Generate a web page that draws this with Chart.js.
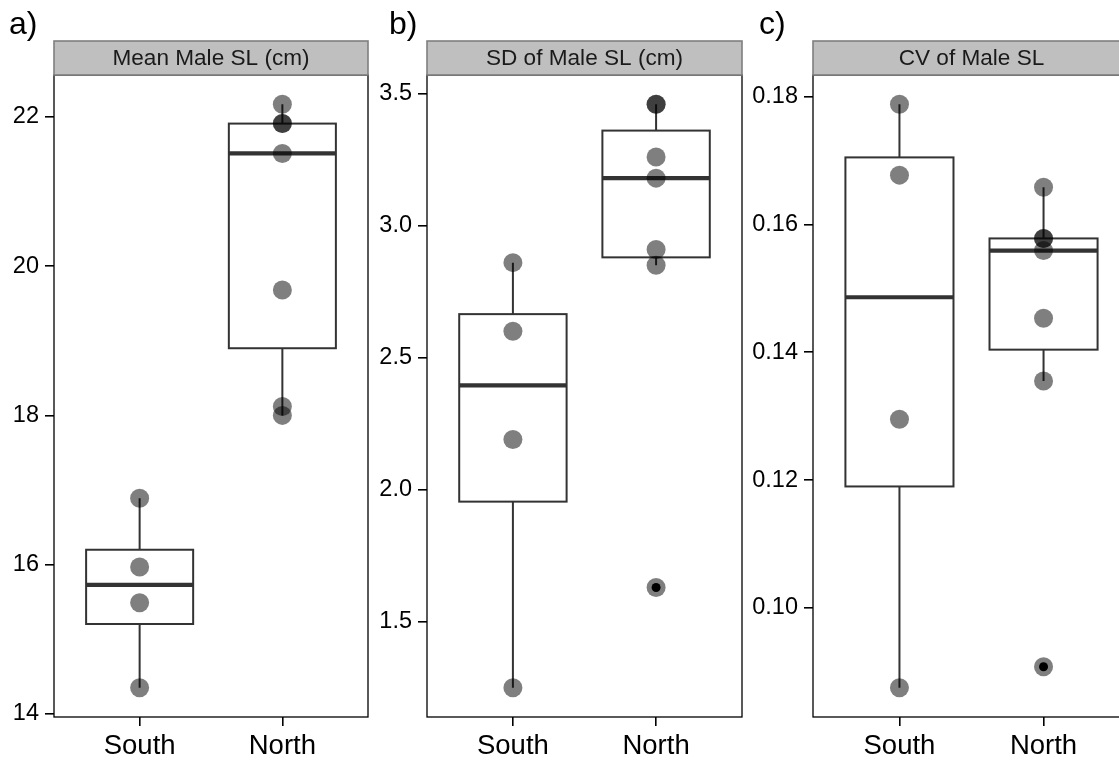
<!DOCTYPE html>
<html>
<head>
<meta charset="utf-8">
<script src="https://cdn.jsdelivr.net/npm/chart.js@4.4.0/dist/chart.umd.min.js"></script>
<style>
  html, body { margin: 0; padding: 0; background: #fff; overflow: hidden; }
  body { width: 1119px; height: 762px; position: relative; }
  canvas { position: absolute; top: 0; }
</style>
</head>
<body>
<canvas id="panelA" width="372" height="762" style="left:0px"></canvas>
<canvas id="panelB" width="372" height="762" style="left:372px"></canvas>
<canvas id="panelC" width="386" height="762" style="left:744px"></canvas>
<script>
var groups = ['South', 'North'];

// a) Mean Male SL (cm)
var meanSouth = [16.89, 15.97, 15.49, 14.35];
var meanNorth = [22.17, 21.91, 21.91, 21.51, 19.68, 18.12, 18.00];
var meanTicks = [14, 16, 18, 20, 22];

// b) SD of Male SL (cm)
var sdSouth = [2.86, 2.60, 2.19, 1.25];
var sdNorth = [3.46, 3.46, 3.26, 3.18, 2.91, 2.85, 1.63];
var sdTicks = [1.5, 2.0, 2.5, 3.0, 3.5];

// c) CV of Male SL
var cvSouth = [0.1788, 0.1677, 0.1295, 0.0875];
var cvNorth = [0.1658, 0.1578, 0.1578, 0.1559, 0.1453, 0.1355, 0.0908];
var cvTicks = [0.10, 0.12, 0.14, 0.16, 0.18];

var FONT = '"Liberation Sans", Arial, Helvetica, sans-serif';

/** 分位数 (R type 7, 与 ggplot 一致) */
function quantile(sorted, p) {
  var h = (sorted.length - 1) * p;
  var lo = Math.floor(h), hi = Math.ceil(h);
  return sorted[lo] + (h - lo) * (sorted[hi] - sorted[lo]);
}

function boxStats(values) {
  var s = values.slice().sort(function(a, b) { return a - b; });
  var q1 = quantile(s, 0.25), med = quantile(s, 0.5), q3 = quantile(s, 0.75);
  var iqr = q3 - q1;
  var inside = s.filter(function(v) { return v >= q1 - 1.5 * iqr && v <= q3 + 1.5 * iqr; });
  return {
    q1: q1, med: med, q3: q3,
    lo: inside[0], hi: inside[inside.length - 1],
    out: s.filter(function(v) { return inside.indexOf(v) < 0; })
  };
}

/** 箱线 + 离群点, 画在散点下面 */
var boxPlugin = {
  id: 'box',
  beforeDatasetsDraw: function(chart) {
    var ctx = chart.ctx, xs = chart.scales.x, ys = chart.scales.y;
    var half = 0.375 * (xs.getPixelForValue(2) - xs.getPixelForValue(1));
    chart.options.plugins.box.series.forEach(function(vals, i) {
      var st = boxStats(vals);
      var x = xs.getPixelForValue(i + 1);
      ctx.save();
      ctx.strokeStyle = '#333333';
      ctx.lineWidth = 2;
      ctx.beginPath();
      ctx.moveTo(x, ys.getPixelForValue(st.q3));
      ctx.lineTo(x, ys.getPixelForValue(st.hi));
      ctx.moveTo(x, ys.getPixelForValue(st.q1));
      ctx.lineTo(x, ys.getPixelForValue(st.lo));
      ctx.stroke();
      var top = ys.getPixelForValue(st.q3), bot = ys.getPixelForValue(st.q1);
      ctx.fillStyle = '#ffffff';
      ctx.fillRect(x - half, top, 2 * half, bot - top);
      ctx.lineWidth = 2;
      ctx.strokeRect(x - half, top, 2 * half, bot - top);
      ctx.lineWidth = 4.2;
      ctx.beginPath();
      var m = ys.getPixelForValue(st.med);
      ctx.moveTo(x - half, m);
      ctx.lineTo(x + half, m);
      ctx.stroke();
      ctx.fillStyle = '#000000';
      st.out.forEach(function(v) {
        ctx.beginPath();
        ctx.arc(x, ys.getPixelForValue(v), 4.5, 0, Math.PI * 2);
        ctx.fill();
      });
      ctx.restore();
    });
  },
  afterDraw: function(chart) {
    var ctx = chart.ctx, a = chart.chartArea, o = chart.options.plugins.box;
    ctx.save();
    // 面板边框
    ctx.strokeStyle = '#000';
    ctx.lineWidth = 1.3;
    ctx.strokeRect(a.left, a.top, a.right - a.left, a.bottom - a.top);
    // 分面标题条
    ctx.fillStyle = '#bfbfbf';
    ctx.fillRect(a.left, 41, a.right - a.left, a.top - 41);
    ctx.strokeStyle = '#7f7f7f';
    ctx.lineWidth = 1.6;
    ctx.strokeRect(a.left, 41, a.right - a.left, a.top - 41);
    ctx.fillStyle = '#1a1a1a';
    ctx.font = '22.6px ' + FONT;
    ctx.textAlign = 'center';
    ctx.textBaseline = 'middle';
    ctx.fillText(o.strip, (a.left + a.right) / 2, 59);
    // 子图字母
    ctx.fillStyle = '#000';
    ctx.font = '32px ' + FONT;
    ctx.textAlign = 'left';
    ctx.textBaseline = 'alphabetic';
    ctx.fillText(o.letter, o.letterX, 34);
    ctx.restore();
  }
};

function expand(values) {
  var mn = Math.min.apply(null, values), mx = Math.max.apply(null, values);
  var pad = (mx - mn) * 0.05;
  return [mn - pad, mx + pad];
}

function renderPanel(canvasId, south, north, ticks, decimals, strip, letter, letterX, yWidth, rightPad) {
  var lim = expand(south.concat(north));
  var tickStyle = { drawOnChartArea: false, drawTicks: true, tickLength: 9, color: '#000', lineWidth: 1.6 };
  new Chart(document.getElementById(canvasId), {
    type: 'scatter',
    data: {
      datasets: [
        { data: south.map(function(v) { return { x: 1, y: v }; }) },
        { data: north.map(function(v) { return { x: 2, y: v }; }) }
      ]
    },
    options: {
      responsive: false,
      animation: false,
      devicePixelRatio: 1,
      layout: { autoPadding: false, padding: { top: 75, right: rightPad, left: 0, bottom: 0 } },
      elements: { point: { radius: 9.5, backgroundColor: 'rgba(0,0,0,0.5)', borderWidth: 0, hoverRadius: 9.5 } },
      plugins: {
        legend: { display: false },
        tooltip: { enabled: false },
        box: { series: [south, north], strip: strip, letter: letter, letterX: letterX }
      },
      scales: {
        x: {
          type: 'linear', min: 0.4, max: 2.6,
          afterBuildTicks: function(s) { s.ticks = [{ value: 1 }, { value: 2 }]; },
          afterFit: function(s) { s.height = 45; },
          ticks: {
            autoSkip: false, maxRotation: 0, padding: 4, color: '#000',
            font: { family: FONT, size: 27.5 },
            callback: function(v) { return groups[v - 1]; }
          },
          grid: tickStyle,
          border: { display: false }
        },
        y: {
          min: lim[0], max: lim[1],
          afterBuildTicks: function(s) { s.ticks = ticks.map(function(v) { return { value: v }; }); },
          afterFit: function(s) { s.width = yWidth; },
          ticks: {
            padding: 6, color: '#000',
            font: { family: FONT, size: 23.5 },
            callback: function(v) { return v.toFixed(decimals); }
          },
          grid: tickStyle,
          border: { display: false }
        }
      }
    },
    plugins: [boxPlugin]
  });
}

renderPanel('panelA', meanSouth, meanNorth, meanTicks, 0, 'Mean Male SL (cm)', 'a)', 9, 54, 4);
renderPanel('panelB', sdSouth, sdNorth, sdTicks, 1, 'SD of Male SL (cm)', 'b)', 17, 55, 2);
renderPanel('panelC', cvSouth, cvNorth, cvTicks, 2, 'CV of Male SL', 'c)', 15, 69, 0);
</script>
</body>
</html>
